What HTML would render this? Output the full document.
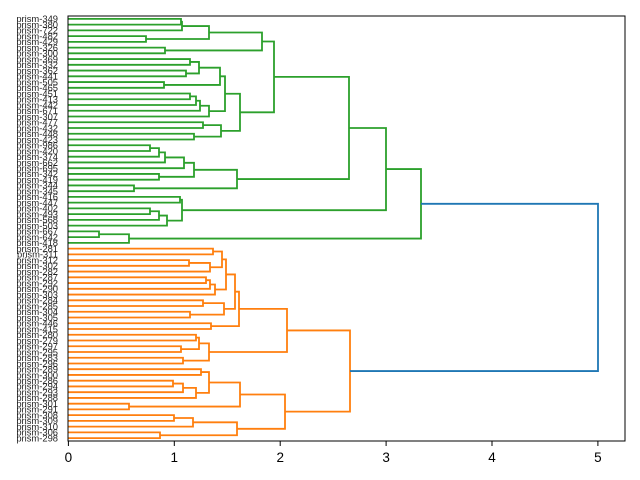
<!DOCTYPE html>
<html><head><meta charset="utf-8"><style>
html,body{margin:0;padding:0;background:#fff;}
svg{display:block;font-family:"Liberation Sans","DejaVu Sans",sans-serif;}
</style></head><body>
<svg id="s" width="640" height="480" viewBox="0 0 640 480" xmlns="http://www.w3.org/2000/svg">
<rect width="640" height="480" fill="#fff"/>
<g id="lines" fill="none" stroke-width="1.8"></g>
<g id="labels" font-size="9.4" fill="#222" text-anchor="end"></g>
<rect x="68" y="16" width="557" height="425" fill="none" stroke="#000" stroke-width="1"/>
<g stroke="#000" stroke-width="1">
<line x1="68.4" y1="441" x2="68.4" y2="446"/>
<line x1="174.3" y1="441" x2="174.3" y2="446"/>
<line x1="280.2" y1="441" x2="280.2" y2="446"/>
<line x1="386.1" y1="441" x2="386.1" y2="446"/>
<line x1="492" y1="441" x2="492" y2="446"/>
<line x1="597.9" y1="441" x2="597.9" y2="446"/>
</g>
<g font-size="13.5" fill="#000" text-anchor="middle">
<text x="68.4" y="462">0</text>
<text x="174.3" y="462">1</text>
<text x="280.2" y="462">2</text>
<text x="386.1" y="462">3</text>
<text x="492" y="462">4</text>
<text x="597.9" y="462">5</text>
</g>
</svg>
<script>
var names=[349,380,722,482,429,326,300,369,332,362,441,505,465,451,413,442,671,307,477,432,448,423,986,420,374,662,695,342,419,344,345,416,447,402,493,568,503,667,642,418,281,311,312,302,282,287,292,290,303,284,285,304,305,446,415,280,279,297,295,283,296,289,300,286,294,293,288,301,291,308,309,310,306,298];
var N=74,X0=68.4;
function ly(k){return 16+(k-0.5)*425/N;}
var G1=[209,[182,[181,1,2],3],[146,4,5]];
var G1b=[262,G1,[165,6,7]];
var G2a=[220,[199,[190,8,9],[186,10,11]],[164,12,13]];
var G2b=[209,[200,[196,[190,14,15],16],17],18];
var G2=[225,G2a,G2b];
var G3=[240,G2,[221,[203,19,20],[194,21,22]]];
var G4=[274,G1b,G3];
var G5=[237,[194,[184,[165,[159,[150,23,24],25],26],27],[159,28,29]],[134,30,31]];
var G6=[349,G4,G5];
var G7=[182,[180,32,33],[167,[159,[150,34,35],36],37]];
var G8=[386,G6,G7];
var G9=[129,[99,38,39],40];
var G=[421,G8,G9];
var O1=[226,[222,[213,41,42],[210,[189,43,44],45]],[215,[210,[206,46,47],48],49]];
var O2=[235,O1,[224,[203,50,51],[190,52,53]]];
var O3=[239,O2,[211,54,55]];
var O4=[209,[199,[196,56,57],[181,58,59]],[183,60,61]];
var O5=[287,O3,O4];
var O6=[240,[209,[201,62,63],[196,[183,[173,64,65],66],67]],[129,68,69]];
var O7=[237,[193,[174,70,71],72],[160,73,74]];
var O8=[285,O6,O7];
var O=[350,O5,O8];
var out=document.getElementById('lines'),NS="http://www.w3.org/2000/svg";
function draw(n,col){
 if(typeof n==="number")return [X0,ly(n)];
 var a=draw(n[1],col),b=draw(n[2],col),h=n[0];
 var p=document.createElementNS(NS,'path');
 p.setAttribute('d','M'+a[0]+' '+a[1]+'H'+h+'V'+b[1]+'H'+b[0]);
 p.setAttribute('stroke',col);out.appendChild(p);
 return [h,(a[1]+b[1])/2];
}
var g=draw(G,'#2ca02c'),o=draw(O,'#ff7f0e');
var p=document.createElementNS(NS,'path');
p.setAttribute('d','M'+g[0]+' '+g[1]+'H598V'+o[1]+'H'+o[0]);
p.setAttribute('stroke','#1f77b4');out.appendChild(p);
var lab=document.getElementById('labels');
for(var k=1;k<=N;k++){var t=document.createElementNS(NS,'text');t.setAttribute('x',58);t.setAttribute('y',ly(k)+3.3);t.textContent='prism-'+names[k-1];lab.appendChild(t);}
</script>
</body></html>
